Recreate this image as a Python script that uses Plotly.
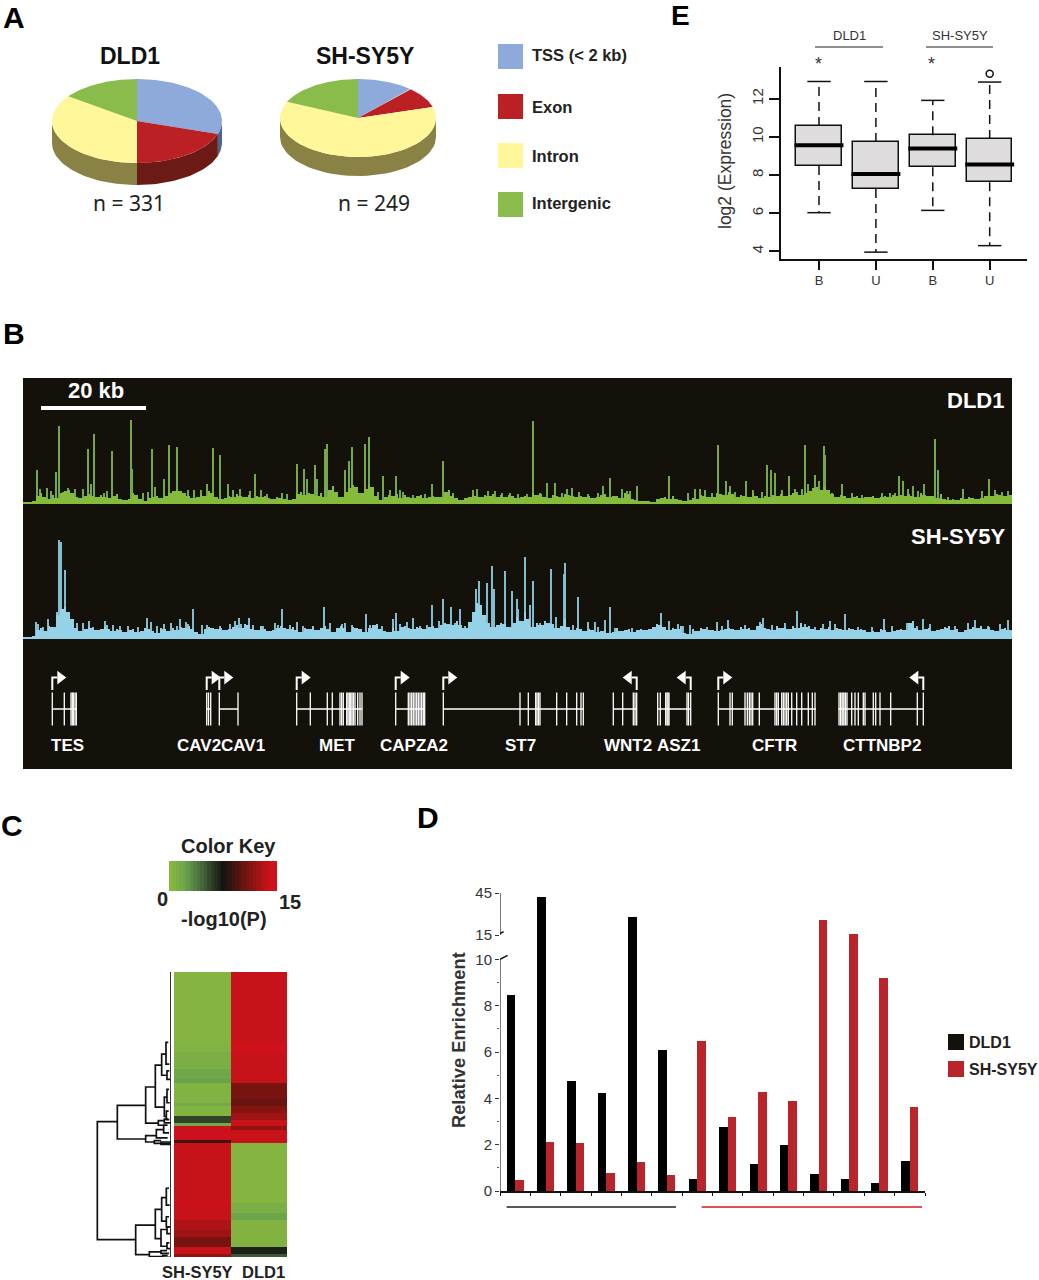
import numpy as np
import plotly.graph_objects as go

W, H = 1039, 1280
SANS = "Liberation Sans"
LIGHT = "Noto Sans"

# ---- panel A: peak annotation shares (percent)
anno_names = ["TSS (< 2 kb)", "Exon", "Intron", "Intergenic"]
anno_colors = ["#8eaadb", "#bb2024", "#fff799", "#89bc4a"]
anno_walls = ["#4d6390", "#6b1a16", "#8a8244", "#5c7d30"]
dld1_share = [30.0, 20.0, 35.0, 15.0]
shsy_share = [11.6, 8.8, 61.4, 18.2]

# ---- panel E: box stats, log2 expression
box_labels = ["B", "U", "B", "U"]
box_q1 = [8.48, 7.27, 8.41, 7.62]
box_med = [9.57, 8.06, 9.39, 8.55]
box_q3 = [10.58, 9.73, 10.09, 9.90]
box_lo = [6.03, 3.96, 6.15, 4.30]
box_hi = [12.91, 12.91, 11.92, 12.88]
outlier_box = [3]
outlier_val = [13.32]

# ---- panel B: tracks, position along the region (105 units = 20 kb)
dld1_floor = [
    0, 0, 1, 6, 9, 5, 3, 7, 4, 9, 11, 12, 9, 5, 4, 6, 8, 6, 5, 7,
    5, 4, 6, 8, 3, 2, 3, 9, 7, 3, 1, 4, 5, 6, 4, 6, 9, 11, 13, 11,
    9, 6, 4, 5, 7, 6, 11, 9, 5, 3, 4, 6, 5, 8, 6, 5, 7, 4, 6, 5,
    6, 4, 3, 5, 4, 3, 2, 3, 8, 10, 7, 9, 8, 6, 9, 5, 12, 16, 10, 5,
    10, 14, 17, 15, 9, 13, 17, 15, 6, 2, 5, 7, 6, 8, 4, 7, 5, 4, 6, 7,
    4, 5, 6, 5, 5, 10, 12, 6, 4, 2, 4, 5, 7, 6, 5, 7, 6, 8, 5, 7,
    5, 7, 6, 4, 5, 6, 5, 9, 7, 8, 5, 4, 7, 6, 5, 8, 7, 6, 5, 6,
    5, 6, 4, 5, 7, 8, 5, 6, 6, 4, 9, 8, 3, 2, 1, 1, 1, 0, 3, 4,
    5, 3, 6, 3, 2, 1, 2, 4, 3, 7, 6, 5, 5, 9, 8, 7, 10, 8, 5, 7,
    6, 5, 9, 6, 4, 6, 5, 7, 6, 8, 6, 7, 9, 10, 7, 9, 11, 14, 15, 12,
    15, 12, 8, 5, 7, 6, 4, 5, 6, 4, 5, 5, 6, 4, 5, 6, 5, 7, 6, 7,
    6, 8, 6, 5, 9, 7, 6, 6, 4, 8, 3, 2, 3, 2, 4, 3, 5, 4, 3, 4,
    6, 7, 6, 8, 7, 6, 7, 8,
]
shsy_floor = [
    0, 0, 1, 7, 9, 6, 11, 10, 22, 28, 30, 25, 18, 9, 6, 8, 10, 9, 7, 8,
    10, 8, 6, 8, 7, 5, 7, 8, 5, 6, 9, 8, 6, 4, 9, 8, 6, 9, 7, 10,
    9, 11, 8, 5, 3, 8, 10, 9, 8, 9, 7, 8, 10, 12, 9, 13, 12, 8, 7, 11,
    8, 6, 7, 9, 11, 9, 8, 10, 7, 5, 9, 8, 10, 7, 9, 11, 8, 5, 9, 11,
    9, 5, 10, 9, 8, 5, 9, 12, 13, 8, 6, 5, 9, 6, 10, 11, 9, 8, 10, 9,
    8, 10, 11, 9, 12, 14, 13, 12, 16, 12, 9, 15, 25, 34, 32, 22, 14, 10, 12, 14,
    13, 10, 14, 20, 16, 25, 18, 10, 14, 12, 16, 14, 13, 9, 11, 18, 10, 7, 9, 8,
    6, 8, 7, 5, 6, 7, 4, 5, 9, 6, 7, 8, 5, 7, 8, 7, 8, 10, 13, 12,
    10, 7, 9, 8, 11, 4, 3, 8, 6, 9, 8, 7, 7, 6, 7, 8, 9, 8, 7, 10,
    8, 9, 7, 11, 13, 9, 8, 7, 11, 9, 10, 8, 11, 9, 14, 10, 11, 8, 7, 9,
    8, 10, 7, 9, 8, 7, 9, 8, 7, 8, 7, 5, 6, 5, 8, 7, 5, 6, 7, 8,
    7, 14, 16, 9, 7, 8, 9, 6, 7, 8, 9, 11, 7, 8, 5, 7, 8, 10, 9, 11,
    8, 10, 7, 6, 8, 9, 7, 9,
]
dld1_peak_pos = [
    13.7, 36.3, 33, 64.7, 71, 67.7, 88.7, 108, 109.3, 129, 131.7, 141, 145.7, 154, 189.7, 197, 184.3,
    231.7, 273.7, 281.3, 284.3, 291.7, 293.7, 301.7, 303.7, 322, 326.3, 328.7, 341.7, 345.7, 360,
    372.7, 409, 420.3, 509.7, 524, 532, 548.7, 543.7, 579.7, 587, 599, 613.7, 645.7, 672, 677, 694.7,
    703, 707, 722.7, 743.7, 748.3, 752, 766.3, 781.7, 784.7, 792, 796, 800.7, 802, 818.7, 876.3,
    879.7, 890.3, 900.7, 912, 915.3, 940.3, 966,
    17, 24.3, 28, 40.3, 45.3, 52.3, 60.3, 81, 84.3, 120.3, 125.3, 165.3, 171, 177.7, 205.3, 217, 210.3, 227,
    237.7, 243.7, 258.7, 263.7, 355.3, 367, 377, 380.3, 390.3, 402, 430.3, 450.3, 454.3, 465.3, 472, 478.7, 487,
    495, 503.7, 517, 538.7, 556.3, 564.7, 575.3, 603.7, 607, 665.3, 682, 688.7, 712, 730.3, 738.7, 758.7, 772,
    778.7, 808.7, 828.7, 838.7, 858.7, 867, 872, 885.3, 895.3, 925.3, 958.7, 972, 978.7, 985.3,
]
dld1_peak_h = [
    32, 76, 30, 53, 68, 18, 51, 82, 33, 53, 15, 23, 57, 55, 54, 47, 18,
    28, 38, 33, 23, 37, 23, 53, 58, 32, 41, 55, 58, 65, 26,
    26, 18, 41, 81, 19, 19, 14, 13, 16, 24, 13, 16, 26, 13, 13, 57,
    21, 16, 21, 37, 32, 29, 26, 57, 18, 27, 21, 56, 47, 18, 26,
    21, 16, 18, 63, 32, 13, 23,
    13, 14, 11, 10, 14, 13, 13, 9, 11, 9, 10, 12, 12, 12, 18, 13, 12, 11,
    12, 8, 9, 8, 10, 12, 12, 10, 7, 8, 9, 12, 13, 11, 11, 9, 9,
    8, 8, 9, 9, 10, 8, 9, 11, 11, 9, 12, 9, 10, 12, 10, 12, 13,
    13, 9, 9, 7, 9, 9, 9, 13, 11, 5, 11, 12, 10, 11,
]
shsy_peak_pos = [
    36.3, 38.3, 42, 33.7, 13, 24.7, 66.3, 82, 123.7, 157.3, 169.7, 216, 225.7, 258.7, 274.3, 301,
    342.7, 373, 390.3, 408.7, 420.3, 427.7, 437, 453, 455.7, 463.7, 469.3, 471.3, 482.3, 489.3, 493.7,
    495.3, 502.3, 507, 509.7, 528, 532.7, 541, 542, 555.3, 572, 582, 587, 637.7, 646, 693.7, 705.3,
    739.7, 773.7, 807, 822, 861.3, 900.3, 952, 984.7,
    15.3, 19.7, 50.3, 54.3, 60.3, 70.3, 84.3, 90.3, 97, 105.3, 115.3, 127.7, 133.7, 141, 147.7, 153.7, 162.7,
    165.3, 178.7, 183.7, 197, 207, 212, 217.7, 230.3, 240.3, 252, 255.3, 267, 280.3, 290.3, 307, 318.7, 322,
    328.7, 347, 358.7, 370.3, 377, 383.7, 397, 404.3, 416.3, 432, 442,
    517, 523.7, 550.3, 565.3, 575.3, 592, 608.7, 628.7, 655.3, 660.3, 667, 683.7, 698.7, 722, 737, 748.7, 762,
    782, 792, 800.3, 812, 835.3, 848.7, 868.7, 883.7, 893.7, 907, 922, 932, 945.3, 965.3, 977,
]
shsy_peak_h = [
    97, 95, 67, 25, 15, 18, 16, 16, 19, 18, 28, 19, 19, 28, 15, 30,
    23, 24, 19, 32, 38, 30, 28, 48, 56, 54, 71, 48, 66, 46, 38,
    28, 80, 32, 56, 68, 20, 63, 74, 40, 15, 17, 30, 24, 16, 15, 17,
    19, 26, 16, 23, 18, 18, 17, 17,
    13, 10, 12, 14, 14, 10, 12, 12, 11, 11, 10, 15, 11, 13, 14, 11, 15,
    13, 12, 12, 11, 13, 16, 13, 12, 11, 14, 12, 12, 11, 11, 14, 13, 14,
    12, 12, 11, 18, 13, 15, 11, 12, 16, 14, 11,
    14, 12, 12, 15, 10, 9, 9, 8, 13, 11, 12, 10, 11, 12, 15, 12, 14,
    13, 10, 13, 13, 10, 10, 11, 14, 11, 13, 10, 11, 14, 11, 13,
]

# ---- panel B: gene models
gene_names = ["TES", "CAV2", "CAV1", "MET", "CAPZA2", "ST7", "WNT2", "ASZ1", "CFTR", "CTTNBP2"]
gene_label_pos = [44, 176, 220, 314, 391, 497, 605, 655, 751, 859]
gene_start = [29.3, 183.7, 196.3, 273.7, 372.7, 420.3, 590.3, 634.7, 695.3, 815.3]
gene_end = [53.7, 187.7, 215, 339.3, 401.7, 560.3, 613.7, 667.7, 793, 900.3]
gene_strand = [1, 1, 1, 1, 1, 1, -1, -1, 1, -1]
gene_exons = [
    [29.3, 41.3, 48, 49.3, 50.3, 52, 53.3],
    [183.7, 185.5, 187.7],
    [196.3, 215],
    [273.7, 287.3, 304.3, 309.3, 317, 318.7, 320.3, 323.7, 325, 326.3, 327.7, 329, 330.3, 332, 334.7, 337, 339],
    [372.7, 385.3, 387, 388.7, 390.3, 392, 393.7, 395.3, 397, 398.7, 400.3, 401.7],
    [420.3, 497, 505.3, 512.7, 514, 515.5, 517, 533.7, 543.7, 553.7, 558, 560.3],
    [590.3, 599.7, 610.3, 612, 613.7],
    [634.7, 637.3, 642.7, 644, 645, 646, 664, 665.5, 667.7],
    [695.3, 707, 709.3, 722, 724.3, 726.3, 728, 729.7, 736.3, 752, 753.7, 755.3, 758.7, 760.3, 762, 763.7,
     765.3, 768.7, 773.7, 778.7, 785.3, 789.3, 792],
    [816, 817.5, 819, 820, 821, 822.5, 824, 828.7, 832, 835.3, 840.3, 842, 850.3, 852.7, 857, 867.7, 894.3, 900.3],
]

# ---- panel C: -log10(P) per peak row, top to bottom
heat_sh = [0.3] * 21 + [0.6] * 3 + [1.0] * 5 + [1.8] * 3 + [2.2] + [0.6] * 6 + [1.6] + [0.5] * 3 + [5.8] * 2 + [1.6] \
    + [14.3] * 4 + [9.0] + [14.0] * 17 + [14.6] + [14.0] * 5 + [13.0] * 3 + [12.5] * 2 + [11.0] * 3 + [14.0] * 2 + [12.0]
heat_dld = [14.0] * 21 + [14.7] * 3 + [14.0] * 8 + [14.0] + [11.0] * 5 + [10.5] * 2 + [11.5] * 2 + [12.5] * 2 \
    + [14.0] * 2 + [12.0] + [14.0] * 4 + [0.3] * 18 + [1.0] * 3 + [2.0] * 2 + [0.5] * 8 + [7.0] * 2 + [5.0]
heat_cols = ["SH-SY5Y", "DLD1"]
key_levels = [0.0, 0.5, 1.0, 1.5, 2.0, 2.5, 3.0, 3.5, 4.0, 4.5, 5.0, 5.5, 6.0, 6.5, 7.0, 7.5, 8.0, 8.5, 9.0, 9.5,
              10.0, 10.5, 11.0, 11.5, 12.0, 12.5, 13.0, 13.5, 14.0, 14.5, 15.0]

# dendrogram merges: height, row of upper and lower child, height of upper and lower child
node_h = [221, 161, 76, 47, 28, 15, 12, 20, 12, 14, 38, 20, 76, 44, 22, 50, 30,
          106, 47, 28, 14, 14, 30, 12, 12, 65, 30, 25]
node_y1 = [44.1, 39.3, 33.8, 27.3, 24, 20.5, 29, 36.8, 34.5, 41, 43.8, 43.4, 48.3, 46.5, 45.2, 49.8, 50.2,
           75, 70.3, 66.8, 64, 72.5, 76.3, 75.5, 80.3, 83, 82.6, 84]
node_y2 = [79.3, 49.3, 44.6, 39.8, 30.3, 27, 31.5, 42.6, 38.5, 43.5, 45.2, 44.5, 50.2, 49, 47.5, 50.6, 50.9,
           83.8, 79, 73.8, 69, 75.5, 81.3, 77.5, 82, 84.4, 83.4, 84.6]
node_h1 = [161, 76, 47, 28, 15, 8, 5, 12, 6, 7, 20, 8, 44, 22, 12, 30, 0,
           47, 28, 14, 6, 6, 12, 5, 5, 30, 12, 10]
node_h2 = [106, 76, 38, 20, 12, 5, 3, 14, 4, 5, 10, 0, 50, 10, 6, 0, 0,
           65, 30, 14, 4, 3, 12, 3, 3, 25, 6, 0]

# ---- panel D: relative enrichment at 14 sites
site_dld = [8.47, 42.4, 4.73, 4.22, 28.0, 6.1, 0.5, 2.76, 1.17, 2.0, 0.75, 0.5, 0.36, 1.3]
site_shsy = [0.47, 2.1, 2.06, 0.79, 1.24, 0.69, 6.47, 3.18, 4.27, 3.88, 26.0, 16.0, 9.2, 3.64]
enrich_ticks = [0, 2, 4, 6, 8, 10, 15, 45]


def broken(v):
    # axis is cut between 10 and 15, upper part is compressed
    v = np.asarray(v, dtype=float)
    return np.where(v <= 10, v, np.where(v < 15, 10 + (v - 10) * 0.21, 11.05 + (v - 15) * 0.0604))


def xdom(a, b):
    return [a / W, b / W]


def ydom(top, bottom):
    return [1 - bottom / H, 1 - top / H]


fig = go.Figure()
layout = {}
shapes = []
notes = []


def add_axes(n, xd, yd, xr, yr, xopts=None, yopts=None):
    # automargin off, it otherwise squeezes the panels vertically
    xa = dict(domain=xd, range=xr, anchor=f"y{n}", visible=False, fixedrange=True, automargin=False)
    ya = dict(domain=yd, range=yr, anchor=f"x{n}", visible=False, fixedrange=True, automargin=False)
    xa.update(xopts or {})
    ya.update(yopts or {})
    layout[f"xaxis{n}"] = xa
    layout[f"yaxis{n}"] = ya
    return dict(xaxis=f"x{n}", yaxis=f"y{n}")


def note(x, y, text, size, bold=False, color="#111111", anchor="center", angle=0, family=SANS):
    notes.append(dict(x=x / W, y=1 - y / H, xref="paper", yref="paper", text=f"<b>{text}</b>" if bold else text,
                      showarrow=False, xanchor=anchor, yanchor="middle", textangle=angle,
                      font=dict(family=family, size=size, color=color)))


def box_px(x0, y0, x1, y1, color):
    shapes.append(dict(type="rect", xref="paper", yref="paper", x0=x0 / W, x1=x1 / W, y0=1 - y1 / H, y1=1 - y0 / H,
                       fillcolor=color, line=dict(width=0), layer="below"))


def line_px(x0, y0, x1, y1, color, width):
    shapes.append(dict(type="line", xref="paper", yref="paper", x0=x0 / W, x1=x1 / W, y0=1 - y0 / H, y1=1 - y1 / H,
                       line=dict(color=color, width=width)))


# ---- A: tilted pies, drawn as polygons on unit axes
def tilted_pie(shares, n, left, right, top, bottom, side_bottom):
    ry = (bottom - top) / 2
    depth = (side_bottom - bottom) / ry
    ax = add_axes(n, xdom(left, right), ydom(top, side_bottom), [-1, 1], [-1 - depth, 1])
    edges = np.cumsum([0] + list(shares)) / 100 * 360
    # wall first, only the front half of the disc shows
    for s in range(len(shares)):
        a0, a1 = max(edges[s], 90), min(edges[s + 1], 270)
        if a1 <= a0:
            continue
        t = np.radians(np.linspace(a0, a1, 40))
        xs = np.sin(t)
        ys = np.cos(t)
        fig.add_trace(go.Scatter(x=np.r_[xs, xs[::-1]], y=np.r_[ys, ys[::-1] - depth], mode="lines", fill="toself",
                                 fillcolor=anno_walls[s], line=dict(width=0), hoverinfo="skip", **ax))
    for s in range(len(shares)):
        t = np.radians(np.linspace(edges[s], edges[s + 1], 80))
        fig.add_trace(go.Scatter(x=np.r_[0, np.sin(t), 0], y=np.r_[0, np.cos(t), 0], mode="lines", fill="toself",
                                 fillcolor=anno_colors[s], line=dict(width=0), name=anno_names[s],
                                 hoverinfo="name", **ax))


tilted_pie(dld1_share, 1, 52, 222, 79, 163, 185)
tilted_pie(shsy_share, 2, 280, 436, 79, 157, 176)
note(130, 56, "DLD1", 23, bold=True)
note(365, 56, "SH-SY5Y", 23, bold=True)
note(129, 203, "n = 331", 21, family=LIGHT, color="#222222")
note(374, 203, "n = 249", 21, family=LIGHT, color="#222222")
for name, color, y0, yt in zip(anno_names, anno_colors, [44, 94, 143, 192], [55, 107, 156, 203]):
    box_px(498, y0, 523, y0 + 25, color)
    note(530, yt, name, 16.5, bold=True, color="#222222", anchor="left")

# ---- E: box plot
axE = add_axes(3, xdom(781, 1027), ydom(67, 259), [-0.668, 3.656], [3.6, 13.67],
               xopts=dict(visible=True, showline=True, linecolor="#111111", linewidth=1.5, ticks="outside", ticklen=9,
                          tickwidth=1.5, tickcolor="#111111", tickvals=[0, 1, 2, 3], ticktext=box_labels,
                          showgrid=False, zeroline=False, tickfont=dict(family=SANS, size=13, color="#333333")),
               yopts=dict(visible=True, showline=True, linecolor="#111111", linewidth=1.5, ticks="outside", ticklen=10,
                          tickwidth=1.5, tickcolor="#111111", tickvals=[4, 6, 8, 10, 12], tickangle=-90,
                          showgrid=False, zeroline=False, tickfont=dict(family=SANS, size=15, color="#333333")))
box_x = list(range(len(box_labels)))
whisk_x, whisk_y, cap_x, cap_y, med_x, med_y = [], [], [], [], [], []
for i in box_x:
    whisk_x += [i, i, None, i, i, None]
    whisk_y += [box_q3[i], box_hi[i], None, box_q1[i], box_lo[i], None]
    cap_x += [i - 0.205, i + 0.205, None, i - 0.205, i + 0.205, None]
    cap_y += [box_hi[i], box_hi[i], None, box_lo[i], box_lo[i], None]
    med_x += [i - 0.43, i + 0.43, None]
    med_y += [box_med[i], box_med[i], None]
fig.add_trace(go.Scatter(x=whisk_x, y=whisk_y, mode="lines", line=dict(color="#111111", width=1.5, dash="9px,6px"),
                         hoverinfo="skip", **axE))
fig.add_trace(go.Scatter(x=cap_x, y=cap_y, mode="lines", line=dict(color="#111111", width=1.5),
                         hoverinfo="skip", **axE))
fig.add_trace(go.Bar(x=box_x, y=[b - a for a, b in zip(box_q1, box_q3)], base=box_q1, width=0.8,
                     marker=dict(color="#dfdcdd", line=dict(color="#111111", width=1.5)), **axE))
fig.add_trace(go.Scatter(x=med_x, y=med_y, mode="lines", line=dict(color="#000000", width=4),
                         hoverinfo="skip", **axE))
fig.add_trace(go.Scatter(x=outlier_box, y=outlier_val, mode="markers",
                         marker=dict(symbol="circle-open", size=7, color="#111111", line=dict(width=1.5)), **axE))
note(725, 161, "log2 (Expression)", 17.5, color="#333333", angle=-90)
note(849, 35, "DLD1", 13, color="#333333")
note(960, 35, "SH-SY5Y", 13, color="#333333")
line_px(815, 47, 883, 47, "#222222", 1.2)
line_px(926, 47, 993, 47, "#222222", 1.2)
note(818, 64, "*", 18, color="#333333")
note(931, 64, "*", 18, color="#333333")

# ---- B: browser panel
box_px(23, 378, 1012, 769, "#14110b")
line_px(41, 408, 146, 408, "#ffffff", 4)
note(96, 390, "20 kb", 22, bold=True, color="#ffffff")
note(975, 400, "DLD1", 22, bold=True, color="#ffffff")
note(958, 536, "SH-SY5Y", 22, bold=True, color="#ffffff")


def track(n, floor, peak_pos, peak_h, baseline, top, color, dim):
    ax = add_axes(n, xdom(23, 1012), ydom(top, baseline), [0, 989], [0, baseline - top],
                  xopts=dict(visible=True, showline=True, linecolor=color, linewidth=2, ticks="", showticklabels=False,
                             showgrid=False, zeroline=False))
    fig.add_trace(go.Bar(x=peak_pos, y=peak_h, width=1.2, marker=dict(color=dim, line=dict(width=0)), **ax))
    bins = np.arange(len(floor)) * 4 + 2
    fig.add_trace(go.Bar(x=bins, y=floor, width=2.4, marker=dict(color=color, line=dict(width=0)), **ax))
    # valleys between neighbouring bins are filled in, as in the solid bottom of the track
    fig.add_trace(go.Bar(x=bins[:-1] + 2, y=np.minimum(floor[:-1], floor[1:]), width=2.4,
                         marker=dict(color=color, line=dict(width=0)), **ax))


track(4, dld1_floor, dld1_peak_pos, dld1_peak_h, 502, 400, "#84bb3a", "#74a84a")
track(5, shsy_floor, shsy_peak_pos, shsy_peak_h, 637, 530, "#95d2e8", "#84bccf")

axG = add_axes(6, xdom(23, 1012), ydom(670, 730), [0, 989], [-1.27, 2.36])
intron_x, intron_y, exon_x, exon_y, flag_x, flag_y, tip_x, tip_s = [], [], [], [], [], [], [], []
for g in range(len(gene_names)):
    intron_x += [gene_start[g], gene_end[g], None]
    intron_y += [0, 0, None]
    for e in gene_exons[g]:
        exon_x += [e, e, None]
        exon_y += [-1, 1, None]
    tss = gene_start[g] if gene_strand[g] > 0 else gene_end[g]
    flag_x += [tss, tss, tss + 5 * gene_strand[g], None]
    flag_y += [1.15, 1.9, 1.9, None]
    tip_x.append(tss + 8 * gene_strand[g])
    tip_s.append("triangle-right" if gene_strand[g] > 0 else "triangle-left")
fig.add_trace(go.Scatter(x=intron_x, y=intron_y, mode="lines", line=dict(color="#ffffff", width=1.5),
                         hoverinfo="skip", **axG))
fig.add_trace(go.Scatter(x=exon_x, y=exon_y, mode="lines", line=dict(color="#ffffff", width=1.3),
                         hoverinfo="skip", **axG))
fig.add_trace(go.Scatter(x=flag_x, y=flag_y, mode="lines", line=dict(color="#ffffff", width=2),
                         hoverinfo="skip", **axG))
fig.add_trace(go.Scatter(x=tip_x, y=[1.9] * len(tip_x), mode="markers",
                         marker=dict(symbol=tip_s, size=12, color="#ffffff", line=dict(width=0)),
                         hoverinfo="skip", **axG))
for pos, name in zip(gene_label_pos, gene_names):
    note(pos + 23, 745, name, 17, bold=True, color="#ffffff")

# ---- C: heat map with dendrogram and key
red_green = [[0, "#8ab83e"], [0.14, "#6aa54c"], [0.3, "#45653a"], [0.5, "#141410"], [0.72, "#72140f"],
             [0.93, "#c8121a"], [1, "#d0101c"]]
rows = list(range(len(heat_sh)))
axC = add_axes(7, xdom(174, 287), ydom(972, 1257), [-0.5, 1.5], [84.5, -0.5])
fig.add_trace(go.Heatmap(z=[[a, b] for a, b in zip(heat_sh, heat_dld)], x=[0, 1], y=rows, zmin=0, zmax=15,
                         colorscale=red_green, showscale=False, **axC))
axK = add_axes(8, xdom(169, 277), ydom(861, 891), [-0.25, 15.25], [-0.5, 0.5])
fig.add_trace(go.Heatmap(z=[key_levels], x=key_levels, y=[0], zmin=0, zmax=15, colorscale=red_green, showscale=False,
                         **axK))
axT = add_axes(9, xdom(90, 171), ydom(972, 1257), [243, 0], [84.5, -0.5])
tree_x, tree_y = [0, 0, None], [-0.5, 84.5, None]
for h, y1, y2, h1, h2 in zip(node_h, node_y1, node_y2, node_h1, node_h2):
    tree_x += [h1, h, h, h2, None]
    tree_y += [y1, y1, y2, y2, None]
fig.add_trace(go.Scatter(x=tree_x, y=tree_y, mode="lines", line=dict(color="#111111", width=1.7), hoverinfo="skip",
                         cliponaxis=False, **axT))
note(228, 846, "Color Key", 20, bold=True, color="#222222")
note(162, 899, "0", 20, bold=True, color="#222222")
note(290, 902, "15", 20, bold=True, color="#222222")
note(224, 919, "-log10(P)", 20, bold=True, color="#222222")
note(197, 1272, heat_cols[0], 16.5, bold=True, color="#222222")
note(263, 1272, heat_cols[1], 16.5, bold=True, color="#222222")

# ---- D: enrichment bars on a broken axis
site_x = np.arange(len(site_dld)) + 0.5
axD = add_axes(10, xdom(500, 925), ydom(891, 1191), [0, 14], [0, 12.95],
               xopts=dict(visible=True, showline=True, linecolor="#111111", linewidth=2, ticks="outside", ticklen=3,
                          tickcolor="#111111", tickvals=list(range(15)), showticklabels=False, showgrid=False,
                          zeroline=False),
               yopts=dict(visible=True, showline=False, ticks="outside", ticklen=4, tickcolor="#333333",
                          tickvals=broken(enrich_ticks).tolist(), ticktext=[str(t) for t in enrich_ticks],
                          showgrid=False, zeroline=False, tickfont=dict(family=SANS, size=15, color="#333333"),
                          minor=dict(tickvals=[1, 3, 5, 7, 9], ticks="outside", ticklen=2, tickcolor="#555555")))
fig.add_trace(go.Bar(x=site_x, y=broken(site_dld), width=0.28, offset=-0.28, name="DLD1",
                     marker=dict(color="#000000", line=dict(width=0)), customdata=site_dld,
                     hovertemplate="%{customdata}<extra>DLD1</extra>", **axD))
fig.add_trace(go.Bar(x=site_x, y=broken(site_shsy), width=0.28, offset=0, name="SH-SY5Y",
                     marker=dict(color="#b9252b", line=dict(width=0)), customdata=site_shsy,
                     hovertemplate="%{customdata}<extra>SH-SY5Y</extra>", **axD))
axis_v = [0, 10, None, 15, 45]
axis_y = [broken(v).item() if v is not None else None for v in axis_v]
fig.add_trace(go.Scatter(x=[0, 0, None, 0, 0], y=axis_y, mode="lines", line=dict(color="#333333", width=1.3),
                         hoverinfo="skip", cliponaxis=False, **axD))
fig.add_trace(go.Scatter(x=[0, 0.25, None, -0.17, 0.12], y=[axis_y[1], axis_y[1] + 0.17, None, axis_y[3] - 0.07, axis_y[3] + 0.15],
                         mode="lines", line=dict(color="#111111", width=1.5), hoverinfo="skip", cliponaxis=False, **axD))
note(458, 1040, "Relative Enrichment", 18.3, bold=True, color="#333333", angle=-90)
line_px(506.6, 1207, 676, 1207, "#222222", 1.5)
line_px(701.6, 1207, 922, 1207, "#cc1a22", 1.5)
box_px(948, 1034, 964, 1050, "#14110b")
box_px(948, 1061, 964, 1077, "#b9252b")
note(967, 1042, "DLD1", 16, bold=True, color="#222222", anchor="left")
note(967, 1069, "SH-SY5Y", 16, bold=True, color="#222222", anchor="left")

# panel letters
note(14, 18, "A", 30, bold=True, color="#000000")
note(14, 333, "B", 30, bold=True, color="#000000")
note(12, 825, "C", 30, bold=True, color="#000000")
note(428, 817, "D", 30, bold=True, color="#000000")
note(680, 16, "E", 28, bold=True, color="#000000")

fig.update_layout(width=W, height=H, margin=dict(l=0, r=0, t=0, b=0), paper_bgcolor="#ffffff", plot_bgcolor="rgba(0,0,0,0)",
                  showlegend=False, barmode="overlay", bargap=0, shapes=shapes, annotations=notes,
                  font=dict(family=SANS), **layout)

# default page has an 8px body margin, the figure has to sit at 0,0
fig.write_html("out.html", config={"displayModeBar": False}, post_script="document.body.style.margin='0';")
